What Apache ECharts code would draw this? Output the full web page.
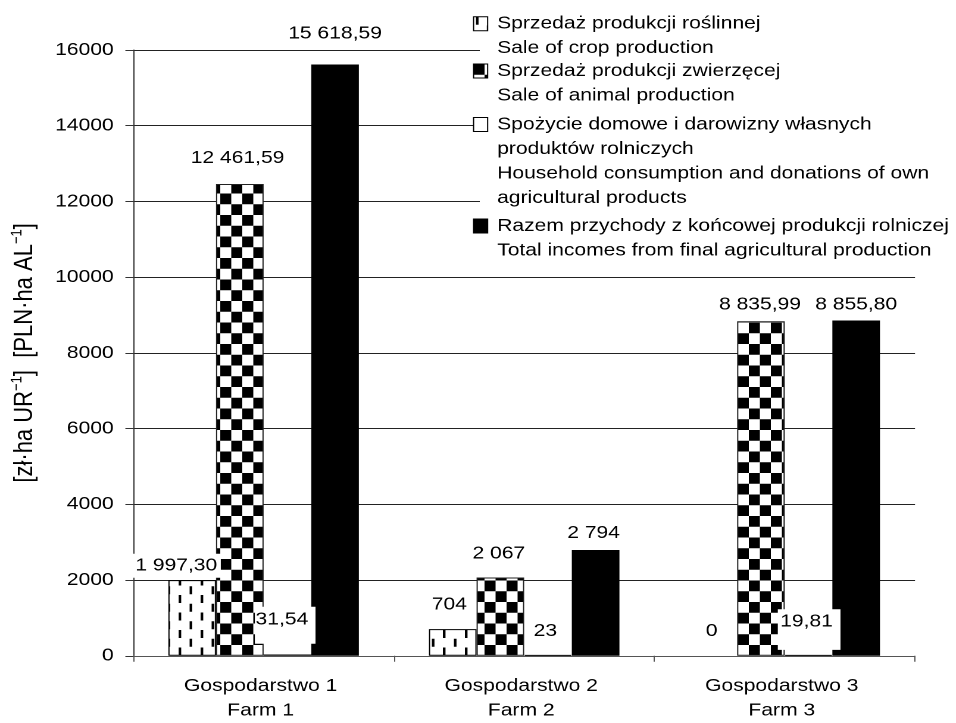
<!DOCTYPE html>
<html>
<head>
<meta charset="utf-8">
<script src="https://cdn.jsdelivr.net/npm/echarts@6/dist/echarts.min.js"></script>
<style>
  html, body { margin: 0; padding: 0; background: #fff; overflow: hidden; }
  /* the chart is laid out on a narrower canvas and widened horizontally */
  #chart { width: 803px; height: 723px; transform: scaleX(1.1905); transform-origin: 0 0; }
</style>
</head>
<body>
<div id="chart"></div>
<script>
// ---- data ----
const farms = ['Gospodarstwo 1\nFarm 1', 'Gospodarstwo 2\nFarm 2', 'Gospodarstwo 3\nFarm 3'];
const cropSales = [1997.30, 704, 0];
const animalSales = [12461.59, 2067, 8835.99];
const householdUse = [31.54, 23, 19.81];
const totalIncome = [15618.59, 2794, 8855.80];
const labelDecimals = [2, 0, 2];
const yTickValues = [0, 2000, 4000, 6000, 8000, 10000, 12000, 14000, 16000];
const seriesNames = [
  'Sprzedaż produkcji roślinnej\nSale of crop production',
  'Sprzedaż produkcji zwierzęcej\nSale of animal production',
  'Spożycie domowe i darowizny własnych\nproduktów rolniczych\nHousehold consumption and donations of own\nagricultural products',
  'Razem przychody z końcowej produkcji rolniczej\nTotal incomes from final agricultural production'
];

// ---- layout / style ----
const FONT = "'Liberation Sans', Arial, sans-serif";
const FS = 17.7;
const LH = 24.5;

// label nudges per series and farm: dx, dy (px) and optional padding
const labelNudge = [
  [{dx: -13.4, dy: -2.4}, {dx: -2.9, dy: -12.4}, {dx: -1.4, dy: -12.5}],
  [{dx: -1.9, dy: -13.9}, {dx: -1.3, dy: -11.7}, {dx: -0.8, dy: -4.6}],
  [{dx: -1.9, dy: -10.8, pad: [3, 6.1, 14, 0.6]}, {dx: -2.2, dy: -11.6}, {dx: 0.5, dy: -5, pad: [2.3, 6.4, 18.3, 2]}],
  [{dx: 0, dy: -19}, {dx: -1.7, dy: -5}, {dx: 0, dy: -3.9}]
];
// first-line centre of each legend entry
const legendLineCenter = [23.7, 71, 124.5, 226];

function plFormat(v, d) {
  if (v === 0) return '0';
  const parts = v.toFixed(d).split('.');
  const intPart = parts[0].replace(/\B(?=(\d{3})+(?!\d))/g, ' ');
  return parts[1] ? intPart + ',' + parts[1] : intPart;
}

// fill patterns (drawn at 2x, shown at half scale)
function makeTile(w, h, draw) {
  const c = document.createElement('canvas');
  c.width = w; c.height = h;
  const ctx = c.getContext('2d');
  ctx.fillStyle = '#fff';
  ctx.fillRect(0, 0, w, h);
  ctx.fillStyle = '#000';
  draw(ctx);
  return c;
}
const dashTile = makeTile(37, 35, ctx => {
  ctx.fillRect(4, 0, 4.4, 16);
  ctx.fillRect(22.5, 17.5, 4.4, 16);
});
const checkTile = makeTile(37, 43, ctx => {
  ctx.fillRect(0, 0, 18.5, 21.5);
  ctx.fillRect(18.5, 21.5, 18.5, 21.5);
});
const dashFill = { image: dashTile, repeat: 'repeat', scaleX: 0.5, scaleY: 0.5 };
const checkFill = { image: checkTile, repeat: 'repeat', scaleX: 0.5, scaleY: 0.5 };

const seriesStyles = [
  { color: dashFill, borderColor: '#000', borderWidth: 1 },
  { color: checkFill, borderColor: '#222', borderWidth: 1 },
  { color: '#fff', borderColor: '#000', borderWidth: 1 },
  { color: '#000', borderColor: '#000', borderWidth: 0 }
];

const seriesValues = [cropSales, animalSales, householdUse, totalIncome];

function buildSeries(k) {
  return {
    name: seriesNames[k],
    type: 'bar',
    barWidth: 40,
    barGap: '0%',
    itemStyle: seriesStyles[k],
    emphasis: { disabled: true },
    data: seriesValues[k].map((v, i) => {
      const n = labelNudge[k][i];
      const item = {
        value: v,
        label: {
          show: true,
          position: 'top',
          distance: 0,
          offset: [n.dx, n.dy],
          padding: n.pad || [2, 3, 2, 3],
          backgroundColor: '#fff',
          color: '#000',
          fontFamily: FONT,
          fontSize: FS,
          lineHeight: 20,
          formatter: () => plFormat(v, labelDecimals[i])
        }
      };
      if (v === 0) item.itemStyle = { borderWidth: 0 };
      return item;
    })
  };
}

const chart = echarts.init(document.getElementById('chart'), null, {
  width: 803, height: 723, devicePixelRatio: 2
});

chart.setOption({
  animation: false,
  backgroundColor: '#fff',
  textStyle: { fontFamily: FONT },
  grid: { left: 107.5, right: 34.4, top: 50, bottom: 63, containLabel: false },
  graphic: [{
    type: 'rect', left: 403, top: 0, z: 1, silent: true,
    shape: { width: 400, height: 268 },
    style: { fill: '#fff' }
  }],
  legend: seriesNames.map((name, k) => {
    const lines = name.split('\n').length;
    return {
      data: [name],
      orient: 'vertical',
      left: 397.3,
      top: legendLineCenter[k] - (lines - 1) * LH - LH / 2,
      padding: 0,
      itemWidth: 11.8,
      itemHeight: 14,
      icon: 'rect',
      selectedMode: false,
      itemStyle: { borderColor: '#000', borderWidth: 1 },
      // blank lines above keep the icon level with the first text line
      formatter: t => '\n'.repeat(lines - 1) + t,
      textStyle: {
        color: '#000', fontFamily: FONT, fontSize: FS, lineHeight: LH,
        padding: [0, 0, 0, 3],
        backgroundColor: 'transparent'
      }
    };
  }),
  xAxis: {
    type: 'category',
    data: farms,
    axisLine: { lineStyle: { color: '#555', width: 1 } },
    axisTick: { show: true, length: 6, lineStyle: { color: '#555' } },
    axisLabel: {
      color: '#000', fontFamily: FONT, fontSize: FS, lineHeight: LH,
      margin: 18.25, padding: [0, 5, 0, 0]
    }
  },
  yAxis: {
    type: 'value',
    min: yTickValues[0],
    max: yTickValues[yTickValues.length - 1],
    interval: yTickValues[1] - yTickValues[0],
    name: '{t|[zł·ha UR}{s|−1}{t|]  [PLN·ha AL}{s|−1}{t|]}',
    nameLocation: 'middle',
    nameGap: 78,
    nameTextStyle: {
      rich: {
        t: { fontFamily: FONT, fontSize: 22, color: '#000', lineHeight: 26 },
        s: { fontFamily: FONT, fontSize: 13, color: '#000', lineHeight: 26, verticalAlign: 'top' }
      }
    },
    axisLine: { show: true, lineStyle: { color: '#333', width: 1 } },
    axisTick: { show: true, length: 6.7, lineStyle: { color: '#333' } },
    axisLabel: {
      color: '#000', fontFamily: FONT, fontSize: FS, margin: 16.5,
      formatter: v => String(v)
    },
    splitLine: { show: true, lineStyle: { color: '#222', width: 1 } }
  },
  series: [0, 1, 2, 3].map(buildSeries)
});
</script>
</body>
</html>
